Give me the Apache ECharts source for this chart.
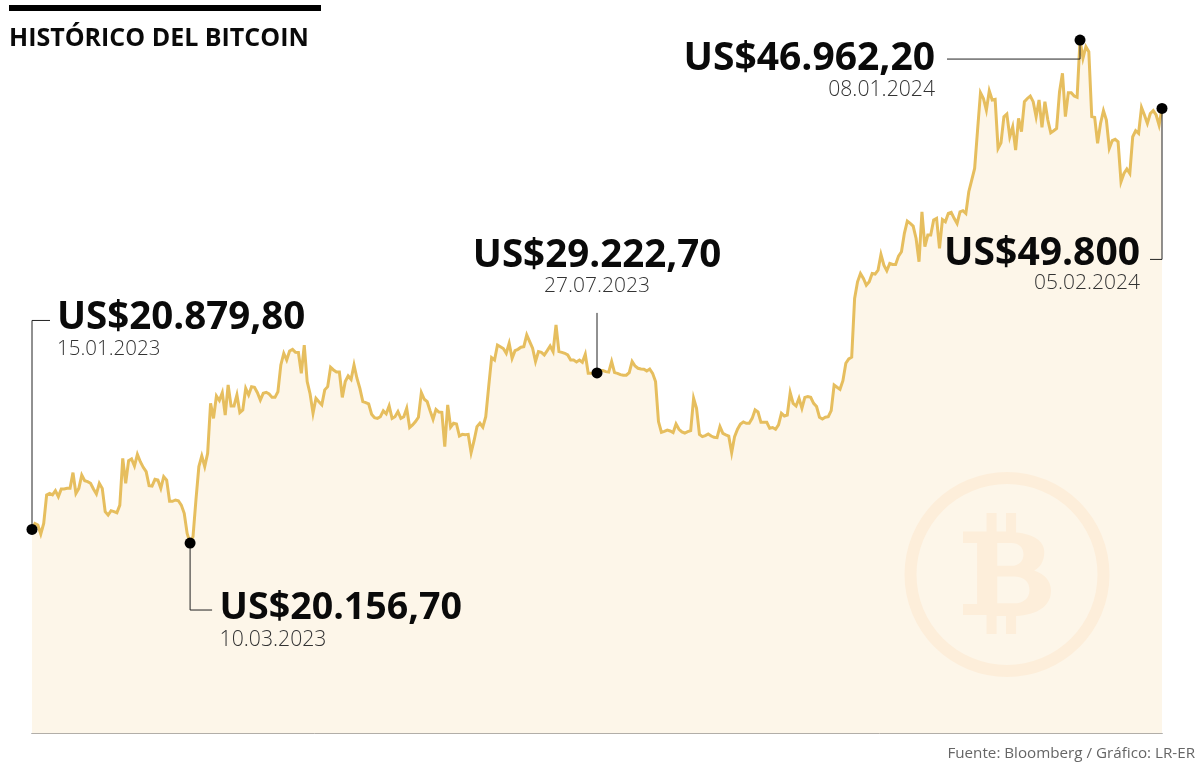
<!DOCTYPE html>
<html><head><meta charset="utf-8">
<style>html,body{margin:0;padding:0;background:#fff}#c{width:1200px;height:767px}</style>
<script src="https://cdn.jsdelivr.net/npm/echarts@6/dist/echarts.min.js"></script>
</head><body><div id="c"></div>
<script>
// Daily close, thousands of US$
const startDate = '2023-01-15';
const prices = [
20.88,21.20,21.12,20.64,21.20,22.72,22.80,22.72,22.95,22.63,23.04,23.04,23.07,23.07,23.91,22.80,23.07,23.78,23.48,23.43,
23.34,23.04,22.77,23.34,23.07,21.83,21.65,21.88,21.83,21.77,22.18,24.67,23.34,24.55,24.64,24.26,24.88,24.49,24.19,23.96,
23.21,23.19,23.55,23.51,23.07,23.69,23.51,22.38,22.38,22.45,22.41,22.18,21.74,20.67,20.16,20.50,22.45,24.23,24.80,24.23,
24.94,27.60,26.80,27.99,27.75,28.17,26.98,28.58,27.46,27.46,28.05,27.11,27.25,28.40,28.05,28.49,28.46,28.17,27.78,28.14,
28.19,28.10,27.92,27.92,28.22,29.65,30.27,29.91,30.39,30.48,30.32,30.31,29.20,30.70,28.76,28.10,27.07,27.87,27.69,27.52,
28.32,28.49,29.52,29.38,29.27,29.27,27.92,28.76,29.06,28.88,29.65,28.94,28.40,27.69,27.64,27.57,27.02,26.84,26.80,26.89,
27.20,27.04,27.46,26.80,26.89,27.16,26.80,26.89,27.34,26.31,26.45,26.63,26.86,28.17,27.82,27.69,27.20,26.75,27.28,27.14,
27.12,25.29,27.52,26.33,26.54,26.50,25.86,25.95,25.93,25.95,24.97,25.61,26.36,26.54,26.33,26.89,28.49,30.04,29.91,30.71,
30.62,30.52,30.27,30.80,30.00,30.41,30.48,30.59,30.62,31.25,30.89,30.54,29.83,30.36,30.32,30.18,30.41,30.66,30.36,31.78,
30.36,30.32,30.27,30.18,29.91,29.91,29.81,29.91,29.79,30.22,29.20,29.20,29.24,29.22,29.35,29.35,29.29,29.27,29.83,29.24,
29.20,29.13,29.10,29.10,29.24,29.83,29.59,29.47,29.43,29.42,29.33,29.43,29.20,28.76,26.63,26.06,26.11,26.18,26.13,26.04,
26.50,26.22,26.08,26.02,26.09,26.15,27.87,27.34,25.95,25.83,25.88,25.97,25.86,25.79,25.77,26.36,26.00,25.92,25.86,24.97,
25.83,26.22,26.50,26.61,26.54,26.54,26.80,27.25,27.14,26.59,26.59,26.59,26.27,26.31,26.22,26.45,27.07,26.93,26.98,28.17,
27.60,27.46,27.87,27.34,27.92,27.96,27.92,27.60,27.43,26.86,26.77,26.86,26.89,27.21,28.58,28.46,28.35,28.81,29.74,29.97,
30.06,33.19,34.08,34.52,34.26,33.90,34.08,34.52,34.49,34.70,35.54,34.97,34.67,35.06,35.00,35.00,35.45,35.68,36.66,37.31,
37.19,37.05,36.39,35.15,37.81,35.95,36.57,36.57,37.37,37.46,35.86,37.40,37.28,37.72,37.78,37.46,37.19,37.81,37.87,37.72,
38.88,39.50,40.12,42.17,44.16,43.85,43.23,44.26,43.77,43.80,41.19,41.49,42.88,43.02,41.81,42.34,41.10,42.79,42.08,43.68,
43.85,43.98,43.68,42.88,43.77,42.31,43.68,42.70,42.02,42.13,42.25,44.21,45.19,42.88,44.16,44.16,43.98,43.91,46.96,45.99,
46.61,46.34,42.88,42.84,41.46,42.52,43.20,42.70,41.19,41.60,41.67,41.54,39.41,39.85,40.09,39.85,41.81,42.13,41.99,43.37,
42.97,42.52,43.05,43.20,42.97,42.43,43.32];

// Callouts
const calloutDates  = ['2023-01-15','2023-03-10','2023-07-27','2024-01-08','2024-02-05'];
const calloutValues = [20.8798,20.1567,29.2227,46.9622,43.32];
const calloutPrices = ['US$20.879,80','US$20.156,70','US$29.222,70','US$46.962,20','US$49.800'];
const calloutLabels = ['15.01.2023','10.03.2023','27.07.2023','08.01.2024','05.02.2024'];
const titleText = 'HISTÓRICO DEL BITCOIN';
const sourceText = 'Fuente: Bloomberg / Gráfico: LR-ER';

// Layout of each callout, in pixels relative to its dot
const calloutLayout = [
 {path:[[0,-209],[18,-209]], tx:25,  ty:-211, dy:-180, align:'left',  big:38.5, small:20.5},
 {path:[[0,67],[22,67]],     tx:29.5,ty:65,   dy:97,   align:'left',  big:37.6, small:21.2},
 {path:[[0,-60]],            tx:0,   ty:-117, dy:-87,  align:'center',big:38.5, small:21},
 {path:[[0,19],[-133,19]],   tx:-145,ty:19,   dy:50,   align:'right', big:39,   small:21.2},
 {path:[[0,151],[-12,151]],  tx:-22, ty:145,  dy:175,  align:'right', big:39,   small:21}
];
const FONT = '"Open Sans","Noto Sans",sans-serif';
const LOGO = '#fdeeda';
const bPath = 'M220 215 H290 V160 H320 V215 H348 V160 H378 V218 C430 222 462 245 462 275 C462 305 450 322 432 332 C462 342 482 362 482 392 C482 440 440 465 378 468 V522 H348 V468 H320 V522 H290 V465 H220 V432 H262 V250 H220 Z M322 250 V318 H365 C385 318 400 305 400 284 C400 262 385 250 365 250 Z M322 350 V430 H372 C400 430 418 415 418 390 C418 365 400 350 372 350 Z';
const day = 86400000;
const t0 = Date.parse(startDate + 'T00:00:00Z');
const lineData = prices.map((p,i)=>[t0+i*day,p]);
const calloutData = calloutDates.map((d,i)=>[Date.parse(d+'T00:00:00Z'),calloutValues[i],i]);

const chart = echarts.init(document.getElementById('c'),null,{renderer:'canvas'});
chart.setOption({
 animation:false,
 backgroundColor:'#fff',
 useUTC:true,
 title:[
  {text:titleText,left:4,top:21,textStyle:{fontFamily:FONT,fontSize:25,fontWeight:700,color:'#0a0a0a'}},
  {text:sourceText,right:0,top:741,textStyle:{fontFamily:FONT,fontSize:15.2,fontWeight:400,color:'#666'}}
 ],
 grid:{left:32,right:38,top:20.6,bottom:33.4},
 xAxis:{type:'time',min:t0,max:t0+386*day,splitLine:{show:false},axisTick:{show:false},axisLabel:{show:false},
  axisLine:{show:true,lineStyle:{color:'#666',width:1}}},
 yAxis:{type:'value',min:10,max:48,show:false,splitLine:{show:false}},
 graphic:[
  {type:'rect',z:20,shape:{x:9,y:5,width:312,height:6},style:{fill:'#000'}}
 ],
 series:[
  {type:'line',data:lineData,showSymbol:false,symbol:'none',smooth:false,clip:false,z:2,
   lineStyle:{color:'#e6be5e',width:3,join:'miter',miterLimit:6},
   areaStyle:{color:'#fdf6e9',opacity:1}},
  {type:'custom',coordinateSystem:'none',data:[0],z:5,silent:true,
   renderItem(){
    return {type:'group',children:[
     {type:'ring',shape:{cx:1007,cy:574.5,r:102.5,r0:90.5},style:{fill:LOGO}},
     {type:'path',shape:{pathData:bPath,x:963,y:513,width:88,height:121,layout:'cover'},style:{fill:LOGO}}
    ]};
   }},
  {type:'custom',data:calloutData,z:10,clip:false,encode:{x:0,y:1},
   renderItem(params,api){
    const i=api.value(2), L=calloutLayout[i];
    const p=api.coord([api.value(0),api.value(1)]);
    const pts=[p].concat(L.path.map(o=>[p[0]+o[0],p[1]+o[1]]));
    return {type:'group',children:[
     {type:'polyline',shape:{points:pts},style:{stroke:'#222',lineWidth:1,fill:null}},
     {type:'circle',shape:{cx:p[0],cy:p[1],r:5.5},style:{fill:'#000'}},
     {type:'text',style:{x:p[0]+L.tx,y:p[1]+L.ty,text:calloutPrices[i],fill:'#0a0a0a',font:'700 '+L.big+'px '+FONT,textAlign:L.align,textVerticalAlign:'middle'}},
     {type:'text',style:{x:p[0]+L.tx,y:p[1]+L.dy,text:calloutLabels[i],fill:'#333',font:'300 '+L.small+'px '+FONT,textAlign:L.align,textVerticalAlign:'middle'}}
    ]};
   }}
 ]
});
</script></body></html>
